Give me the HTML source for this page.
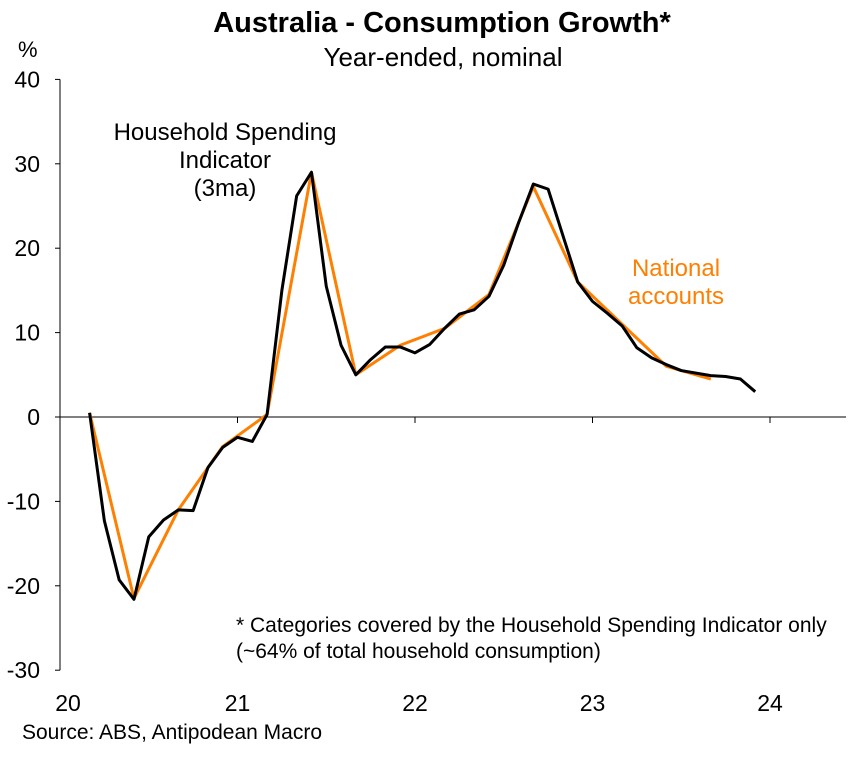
<!DOCTYPE html>
<html><head><meta charset="utf-8"><style>
body{margin:0;background:#fff;width:850px;height:754px;overflow:hidden;font-family:"Liberation Sans",Arial,sans-serif}
</style></head><body>
<svg width="850" height="754" font-family="Liberation Sans, Arial, sans-serif">
<text x="442" y="32" text-anchor="middle" font-size="29" font-weight="bold">Australia - Consumption Growth*</text>
<text x="443" y="66" text-anchor="middle" font-size="26">Year-ended, nominal</text>
<text x="18" y="57" font-size="22">%</text>
<g id="axes"></g>
<g id="series"></g>
<text x="225" y="140" text-anchor="middle" font-size="24"><tspan x="225">Household Spending</tspan><tspan x="225" dy="28">Indicator</tspan><tspan x="225" dy="28">(3ma)</tspan></text>
<text x="676" y="276" text-anchor="middle" font-size="24" fill="#ff7f00"><tspan x="676">National</tspan><tspan x="676" dy="28">accounts</tspan></text>
<text x="236" y="632" font-size="21"><tspan x="236">* Categories covered by the Household Spending Indicator only</tspan><tspan x="236" dy="26">(~64% of total household consumption)</tspan></text>
<text x="22" y="739" font-size="21">Source: ABS, Antipodean Macro</text>
</svg>
<script>
const yTicks=[40,30,20,10,0,-10,-20,-30];
const xYears=["20","21","22","23","24"];
// Household Spending Indicator monthly, Mar 2020 - Dec 2023
const hsiStart=2;
const hsiValues=[0.5,-12.3,-19.3,-21.6,-14.2,-12.2,-11,-11.1,-6,-3.6,-2.4,-2.9,0.3,15,26.2,29,15.5,8.5,5,6.8,8.3,8.3,7.6,8.6,10.5,12.2,12.7,14.3,18,23,27.6,27,21.5,16,13.7,12.3,10.8,8.2,7,6.2,5.5,5.2,4.9,4.8,4.5,3];
// National accounts quarterly, Mar 2020 - Sep 2023 (month indices)
const naMonths=[2,5,8,11,14,17,20,23,26,29,32,35,38,41,44];
const naValues=[0.5,-21.5,-11,-3.5,0.3,29,5,8.5,10.5,14.5,27.3,16,11,6,4.5];
const NS='http://www.w3.org/2000/svg';
const x0=60,monthW=177.5/12,yZero=417,unit=8.44;
const xs=m=>x0+m*monthW, ys=v=>yZero-v*unit;
const axes=document.getElementById('axes'),series=document.getElementById('series');
function mk(t,a,p){const e=document.createElementNS(NS,t);for(const k in a)e.setAttribute(k,a[k]);p.appendChild(e);return e;}
const ya=mk('line',{x1:x0,x2:x0,y1:ys(40),y2:ys(-30),stroke:'#000','stroke-width':1},axes);


yTicks.forEach(v=>{
  const t=mk('line',{x1:x0-5,x2:x0,y1:ys(v),y2:ys(v),stroke:'#000'},axes);
  
  
  const l=mk('text',{x:x0-20,y:ys(v)+8,'text-anchor':'end','font-size':23},axes);
  l.textContent=v;
  
  
});
const xa=mk('line',{x1:x0,x2:846,y1:yZero,y2:yZero,stroke:'#000','stroke-width':1},axes);


xYears.forEach((y,i)=>{
  const x=xs(i*12);
  const t=mk('line',{x1:x,x2:x,y1:yZero,y2:yZero+6,stroke:'#000'},axes);
  
  
  const l=mk('text',{x:i==0?x+8:x,y:711,'text-anchor':'middle','font-size':23},axes);
  l.textContent=y;
  
  
});
const na=mk('polyline',{points:naValues.map((v,i)=>xs(naMonths[i])+','+ys(v)).join(' '),fill:'none',stroke:'#ff7f00','stroke-width':3,'stroke-linejoin':'round'},series);


const hsi=mk('polyline',{points:hsiValues.map((v,i)=>xs(hsiStart+i)+','+ys(v)).join(' '),fill:'none',stroke:'#000','stroke-width':3,'stroke-linejoin':'round'},series);


</script>
</body></html>
